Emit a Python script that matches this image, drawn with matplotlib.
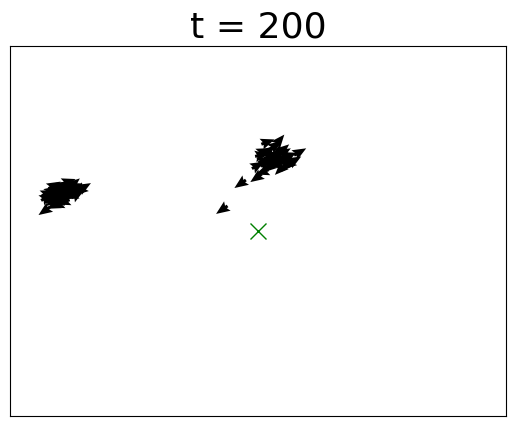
import numpy as np
import matplotlib
matplotlib.use("Agg")
import matplotlib.pyplot as plt

# Boid positions (data units, domain 0..100) and headings (degrees)
x1 = [6.9, 7.5, 7.7, 8.1, 8.5, 8.7, 9.1, 9.3, 9.7, 10.1, 10.7, 10.9, 11.1, 11.7, 12.1, 12.5, 13.1, 13.3, 14.1, 14.1, 15.1, 9.5,
      8.9, 10.3, 11.5, 12.8, 9.9, 11.3, 12.3, 13.7, 10.5, 8.3, 11.9, 13.0, 9.0]
y1 = [55.4, 59.2, 60.3, 58.4, 61.1, 56.8, 58.9, 61.6, 57.6, 62.2, 57.8, 62.4, 59.7, 62.7, 60.5, 62.4, 60.8, 62.2, 61.6, 60.8, 62.0, 57.0,
      59.8, 60.2, 61.0, 61.5, 58.6, 58.9, 59.4, 60.0, 61.0, 57.8, 63.4, 63.0, 62.4]
h1 = [215, 30, 25, 210, 35, 205, 30, 40, 215, 30, 200, 25, 35, 30, 210, 45, 30, 20, 35, 220, 30, 200,
      30, 210, 40, 25, 220, 35, 205, 30, 45, 215, 20, 40, 30]

x2 = [42.7, 46.4, 49.6, 50.8, 52.0, 50.0, 51.4, 52.8, 54.0, 55.4, 56.5, 58.5, 52.4, 53.6, 54.4, 52.0, 55.0, 53.4, 56.1, 50.8, 54.4, 57.5,
      53.0, 54.6, 55.8, 51.6, 53.8, 55.2, 52.6, 55.6, 51.2]
y2 = [55.7, 62.7, 64.3, 65.9, 67.0, 67.8, 69.2, 69.7, 70.5, 71.4, 70.5, 71.4, 71.9, 73.2, 74.6, 74.1, 68.7, 67.8, 67.8, 70.5, 66.5, 69.2,
      68.4, 69.6, 69.0, 68.6, 71.2, 72.2, 70.6, 67.4, 71.6]
h2 = [215, 215, 215, 200, 220, 30, 30, 35, 25, 30, 20, 30, 40, 35, 50, 20, 210, 200, 220, 10, 225, 30,
      215, 30, 225, 35, 210, 40, 30, 230, 25]

target_x = [50.0]
target_y = [50.0]
title = "t = 200"

xs = np.array(x1 + x2)
ys = np.array(y1 + y2)
hs = np.radians(np.array(h1 + h2))
L = 14.0
u = L * np.cos(hs)
v = L * np.sin(hs)

fig = plt.figure(figsize=(5.15, 4.26), dpi=100)
ax = fig.add_axes([10/515, 10/426, 496/515, 370/426])
ax.quiver(xs, ys, u, v, angles='uv', units='dots', scale_units='dots', scale=1,
          width=3, headwidth=3.8, headlength=4.6, headaxislength=4.0, pivot='middle',
          color='black')
ax.plot(target_x, target_y, 'x', color='green', markersize=12, mew=1.0)
ax.set_xlim(0, 100)
ax.set_ylim(0, 100)
ax.set_xticks([])
ax.set_yticks([])
ax.set_title(title, fontsize=26)
fig.savefig("out.png", dpi=100)
